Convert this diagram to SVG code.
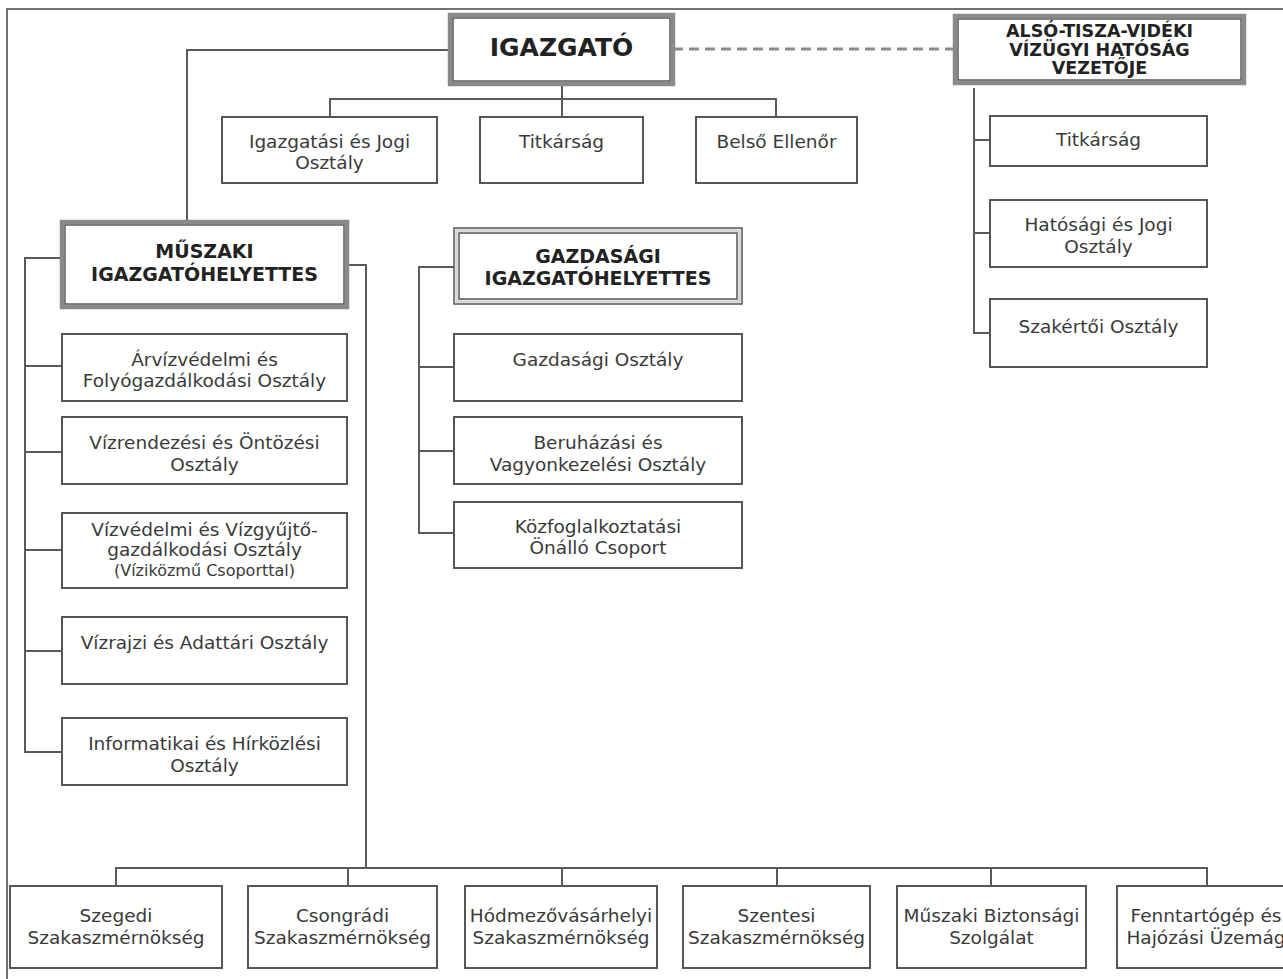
<svg xmlns="http://www.w3.org/2000/svg" width="1283" height="979" viewBox="0 0 1283 979">
<style>
.bg{fill:#fff}
.frame{stroke:#444;stroke-width:1.5;fill:none}
.box{fill:#fff;stroke:#555;stroke-width:2}
.mainout{fill:#fff;stroke:#8a8a8a;stroke-width:4.5}
.maininn{fill:none;stroke:#444;stroke-width:1.3}
.dblout{fill:#fff;stroke:#555;stroke-width:1.5}
.dblmid{fill:none;stroke:#d4d4d4;stroke-width:2.5}
.dblinn{fill:none;stroke:#555;stroke-width:1.5}
.t{font-family:"DejaVu Sans","Verdana",sans-serif;font-size:18.5px;fill:#3a3a3a;text-anchor:middle}
.ts{font-size:16px}
.b{font-family:"DejaVu Sans","Verdana",sans-serif;font-weight:bold;fill:#222;text-anchor:middle}
.conn line,.conn path{stroke:#5a5a5a;stroke-width:2;fill:none}
.conn .dash{stroke:#8a8a8a;stroke-width:3;stroke-dasharray:10 6;fill:none}
</style>
<rect class="bg" x="0" y="0" width="1283" height="979"/>
<path class="frame" d="M7,979 V9 H1283"/>

<g id="connectors" class="conn">
<path d="M450,50 H187 V222"/>
<line class="dash" x1="673" y1="49" x2="955" y2="49"/>
<path d="M562,84 V117"/>
<path d="M330,117 V99 H776 V117"/>
<path d="M974,88 V333 H990 M974,140 H990 M974,233 H990"/>
<path d="M62,258 H25 V752 H62 M25,366 H62 M25,452 H62 M25,550 H62 M25,651 H62"/>
<path d="M347,265 H366 V868"/>
<path d="M116,886 V868 H1207 V886 M348,868 V886 M562,868 V886 M777,868 V886 M991,868 V886"/>
<path d="M454,267 H419 V533 H454 M419,367 H454 M419,451 H454"/>
</g>

<g id="igazgato">
<rect class="mainout" x="450" y="15" width="223" height="69"/>
<rect class="maininn" x="453" y="18" width="217" height="63"/>
<text class="b" x="561.5" y="56" font-size="25">IGAZGATÓ</text>
</g>

<g id="also-tisza">
<rect class="mainout" x="955" y="16" width="289" height="67"/>
<rect class="maininn" x="958" y="19" width="283" height="61"/>
<text class="b" x="1099.5" y="37" font-size="17.5">ALSÓ-TISZA-VIDÉKI</text>
<text class="b" x="1099.5" y="55.5" font-size="17.5">VÍZÜGYI HATÓSÁG</text>
<text class="b" x="1099.5" y="74" font-size="17.5">VEZETŐJE</text>
</g>

<g id="igazgatasi-jogi">
<rect class="box" x="222" y="117" width="215" height="66"/>
<text class="t" x="329.5" y="148">Igazgatási és Jogi</text>
<text class="t" x="329.5" y="169">Osztály</text>
</g>
<g id="titkarsag1">
<rect class="box" x="480" y="117" width="163" height="66"/>
<text class="t" x="561.5" y="148">Titkárság</text>
</g>
<g id="belso-ellenor">
<rect class="box" x="696" y="117" width="161" height="66"/>
<text class="t" x="776.5" y="148">Belső Ellenőr</text>
</g>

<g id="titkarsag2">
<rect class="box" x="990" y="116" width="217" height="50"/>
<text class="t" x="1098.5" y="146">Titkárság</text>
</g>
<g id="hatosagi-jogi">
<rect class="box" x="990" y="200" width="217" height="67"/>
<text class="t" x="1098.5" y="231">Hatósági és Jogi</text>
<text class="t" x="1098.5" y="253">Osztály</text>
</g>
<g id="szakertoi">
<rect class="box" x="990" y="299" width="217" height="68"/>
<text class="t" x="1098.5" y="333">Szakértői Osztály</text>
</g>

<g id="muszaki">
<rect class="mainout" x="62" y="222" width="285" height="85"/>
<rect class="maininn" x="65" y="225" width="279" height="79"/>
<text class="b" x="204.5" y="258" font-size="19">MŰSZAKI</text>
<text class="b" x="204.5" y="281" font-size="19">IGAZGATÓHELYETTES</text>
</g>

<g id="arvizvedelmi">
<rect class="box" x="62" y="334" width="285" height="67"/>
<text class="t" x="204.5" y="366">Árvízvédelmi és</text>
<text class="t" x="204.5" y="387">Folyógazdálkodási Osztály</text>
</g>
<g id="vizrendezesi">
<rect class="box" x="62" y="417" width="285" height="67"/>
<text class="t" x="204.5" y="449">Vízrendezési és Öntözési</text>
<text class="t" x="204.5" y="471">Osztály</text>
</g>
<g id="vizvedelmi">
<rect class="box" x="62" y="513" width="285" height="75"/>
<text class="t" x="204.5" y="536">Vízvédelmi és Vízgyűjtő-</text>
<text class="t" x="204.5" y="556">gazdálkodási Osztály</text>
<text class="t ts" x="204.5" y="576">(Víziközmű Csoporttal)</text>
</g>
<g id="vizrajzi">
<rect class="box" x="62" y="617" width="285" height="67"/>
<text class="t" x="204.5" y="649">Vízrajzi és Adattári Osztály</text>
</g>
<g id="informatikai">
<rect class="box" x="62" y="718" width="285" height="67"/>
<text class="t" x="204.5" y="750">Informatikai és Hírközlési</text>
<text class="t" x="204.5" y="772">Osztály</text>
</g>

<g id="gazdasagi">
<rect class="dblout" x="454" y="228" width="288" height="76"/>
<rect class="dblmid" x="456.5" y="230.5" width="283" height="71"/>
<rect class="dblinn" x="459" y="233" width="278" height="66"/>
<text class="b" x="598" y="263" font-size="19">GAZDASÁGI</text>
<text class="b" x="598" y="285" font-size="19">IGAZGATÓHELYETTES</text>
</g>
<g id="gazdasagi-osztaly">
<rect class="box" x="454" y="334" width="288" height="67"/>
<text class="t" x="598" y="366">Gazdasági Osztály</text>
</g>
<g id="beruhazasi">
<rect class="box" x="454" y="417" width="288" height="67"/>
<text class="t" x="598" y="449">Beruházási és</text>
<text class="t" x="598" y="471">Vagyonkezelési Osztály</text>
</g>
<g id="kozfoglalkoztatasi">
<rect class="box" x="454" y="502" width="288" height="66"/>
<text class="t" x="598" y="533">Közfoglalkoztatási</text>
<text class="t" x="598" y="554">Önálló Csoport</text>
</g>

<g id="szegedi">
<rect class="box" x="10" y="886" width="212" height="82"/>
<text class="t" x="116" y="922">Szegedi</text>
<text class="t" x="116" y="944">Szakaszmérnökség</text>
</g>
<g id="csongradi">
<rect class="box" x="248" y="886" width="189" height="82"/>
<text class="t" x="342.5" y="922">Csongrádi</text>
<text class="t" x="342.5" y="944">Szakaszmérnökség</text>
</g>
<g id="hodmezovasarhelyi">
<rect class="box" x="465" y="886" width="192" height="82"/>
<text class="t" x="561" y="922">Hódmezővásárhelyi</text>
<text class="t" x="561" y="944">Szakaszmérnökség</text>
</g>
<g id="szentesi">
<rect class="box" x="683" y="886" width="187" height="82"/>
<text class="t" x="776.5" y="922">Szentesi</text>
<text class="t" x="776.5" y="944">Szakaszmérnökség</text>
</g>
<g id="muszaki-biztonsagi">
<rect class="box" x="897" y="886" width="189" height="82"/>
<text class="t" x="991.5" y="922">Műszaki Biztonsági</text>
<text class="t" x="991.5" y="944">Szolgálat</text>
</g>
<g id="fenntartogep">
<rect class="box" x="1117" y="886" width="190" height="82"/>
<text class="t" x="1206" y="922">Fenntartógép és</text>
<text class="t" x="1206" y="944">Hajózási Üzemág</text>
</g>
</svg>
